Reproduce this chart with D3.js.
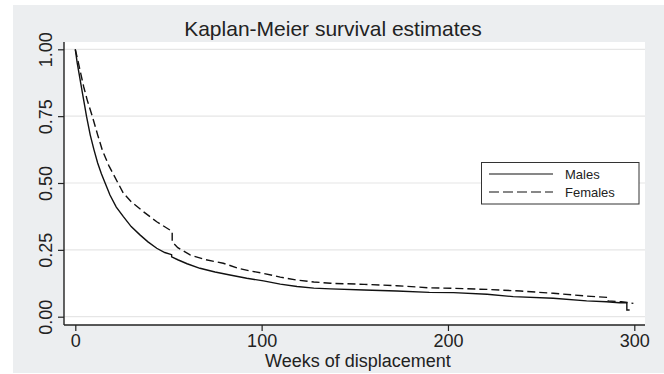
<!DOCTYPE html>
<html>
<head>
<meta charset="utf-8">
<script src="https://cdn.jsdelivr.net/npm/d3@7"></script>
<style>
  body { margin: 0; background: #fff; }
  svg text { font-family: "Liberation Sans", Arial, Helvetica, sans-serif; fill: #222; }
</style>
</head>
<body>
<svg id="chart" width="664" height="374"></svg>
<script>
// Values (weeks, survival probability)
const maleWeeks = [0, 1, 2, 3, 4, 5, 6, 8, 10, 12, 14, 16, 18.6, 22, 25.8, 30, 34.7, 39, 43.7, 48, 51.7, 51.7, 55, 60, 66.9, 75, 83, 92, 101, 110, 119, 128, 137, 155, 172.5, 190, 203, 221, 235, 256.5, 274.4, 285, 292, 296, 296, 297.5];
const maleSurv  = [1.0, 0.95, 0.91, 0.87, 0.83, 0.79, 0.75, 0.68, 0.625, 0.575, 0.535, 0.50, 0.455, 0.41, 0.374, 0.337, 0.306, 0.28, 0.256, 0.24, 0.232, 0.224, 0.213, 0.198, 0.181, 0.167, 0.156, 0.144, 0.134, 0.122, 0.113, 0.107, 0.104, 0.100, 0.096, 0.091, 0.090, 0.084, 0.075, 0.069, 0.059, 0.056, 0.052, 0.052, 0.025, 0.025];

const femaleWeeks = [0, 1.5, 2.9, 4.5, 6.4, 9.1, 12, 14.5, 18, 22.9, 25.8, 30, 36.5, 43.7, 50.8, 52, 52, 55, 61.6, 70, 79.4, 87.5, 94, 101, 110, 119, 128, 137, 155, 172.5, 190, 203, 221, 239, 256.5, 274.4, 286, 286, 293, 299.5];
const femaleSurv  = [1.0, 0.955, 0.91, 0.86, 0.81, 0.75, 0.68, 0.623, 0.565, 0.50, 0.462, 0.43, 0.393, 0.355, 0.324, 0.318, 0.28, 0.258, 0.231, 0.213, 0.200, 0.181, 0.171, 0.162, 0.148, 0.137, 0.130, 0.125, 0.121, 0.116, 0.108, 0.106, 0.102, 0.096, 0.0875, 0.077, 0.072, 0.059, 0.056, 0.05];

const xTicks = [0, 100, 200, 300];
const yTicks = [0, 0.25, 0.5, 0.75, 1];
const seriesNames = ["Males", "Females"];

const svg = d3.select('#chart');

// Outer graph region
svg.append('rect')
    .attr('x', 13).attr('y', 5)
    .attr('width', 651).attr('height', 368)
    .attr('fill', '#eceef0');

// Plot region
const plotLeft = 64, plotRight = 645, plotTop = 42, plotBottom = 325;
svg.append('rect')
    .attr('x', plotLeft).attr('y', plotTop)
    .attr('width', plotRight - plotLeft).attr('height', plotBottom - plotTop)
    .attr('fill', '#fff');

const x = d3.scaleLinear().domain([0, 300]).range([75.3, 634.3]);
const y = d3.scaleLinear().domain([0, 1]).range([316.7, 49.3]);

// Gridlines
svg.append('g')
    .selectAll('line')
    .data(yTicks)
    .join('line')
    .attr('x1', plotLeft).attr('x2', plotRight)
    .attr('y1', d => y(d)).attr('y2', d => y(d))
    .attr('stroke', '#e6e6e6').attr('stroke-width', 1.2);

// Axes
const yAxis = svg.append('g')
    .attr('transform', `translate(${plotLeft},0)`)
    .call(d3.axisLeft(y).tickValues(yTicks).tickFormat(d3.format('.2f')).tickSize(6).tickSizeOuter(0));
yAxis.select('.domain').remove();
yAxis.selectAll('.tick line').attr('stroke', '#222').attr('stroke-width', 1.2);
yAxis.selectAll('.tick text')
    .attr('transform', 'rotate(-90)')
    .attr('x', 0).attr('y', -12.5)
    .attr('dy', 0)
    .attr('text-anchor', 'middle')
    .attr('font-size', 18)
    .attr('fill', '#222');

const xAxis = svg.append('g')
    .attr('transform', `translate(0,${plotBottom})`)
    .call(d3.axisBottom(x).tickValues(xTicks).tickFormat(d3.format('d')).tickSize(6).tickSizeOuter(0));
xAxis.select('.domain').remove();
xAxis.selectAll('.tick line').attr('stroke', '#222').attr('stroke-width', 1.2);
xAxis.selectAll('.tick text')
    .attr('y', 21.5).attr('dy', 0)
    .attr('font-size', 18)
    .attr('fill', '#222');

svg.append('line')
    .attr('x1', plotLeft).attr('x2', plotLeft)
    .attr('y1', plotTop).attr('y2', plotBottom)
    .attr('stroke', '#222').attr('stroke-width', 1.4);
svg.append('line')
    .attr('x1', plotLeft).attr('x2', plotRight)
    .attr('y1', plotBottom).attr('y2', plotBottom)
    .attr('stroke', '#222').attr('stroke-width', 1.4);

// Survival curves
const line = d3.line().x(d => x(d[0])).y(d => y(d[1]));
const maleData = maleWeeks.map((w, i) => [w, maleSurv[i]]);
const femaleData = femaleWeeks.map((w, i) => [w, femaleSurv[i]]);

svg.append('path')
    .datum(maleData)
    .attr('d', line)
    .attr('fill', 'none')
    .attr('stroke', '#111')
    .attr('stroke-width', 1.4);

svg.append('path')
    .datum(femaleData)
    .attr('d', line)
    .attr('fill', 'none')
    .attr('stroke', '#111')
    .attr('stroke-width', 1.4)
    .attr('stroke-dasharray', '8,4');

// Legend
const legend = svg.append('g');
legend.append('rect')
    .attr('x', 481.5).attr('y', 162.5)
    .attr('width', 157.5).attr('height', 41.5)
    .attr('fill', '#fff').attr('stroke', '#333').attr('stroke-width', 1);
seriesNames.forEach((name, i) => {
    const ly = 174 + i * 18;
    legend.append('line')
        .attr('x1', 489).attr('x2', 553)
        .attr('y1', ly).attr('y2', ly)
        .attr('stroke', '#111').attr('stroke-width', 1.2)
        .attr('stroke-dasharray', i === 1 ? '10,4' : null);
    legend.append('text')
        .attr('x', 565).attr('y', ly + 5)
        .attr('font-size', 13)
        .text(name);
});

// Titles
svg.append('text')
    .attr('x', 333).attr('y', 36)
    .attr('text-anchor', 'middle')
    .attr('font-size', 21)
    .text('Kaplan-Meier survival estimates');

svg.append('text')
    .attr('x', 358).attr('y', 367)
    .attr('text-anchor', 'middle')
    .attr('font-size', 18)
    .text('Weeks of displacement');
</script>
</body>
</html>
